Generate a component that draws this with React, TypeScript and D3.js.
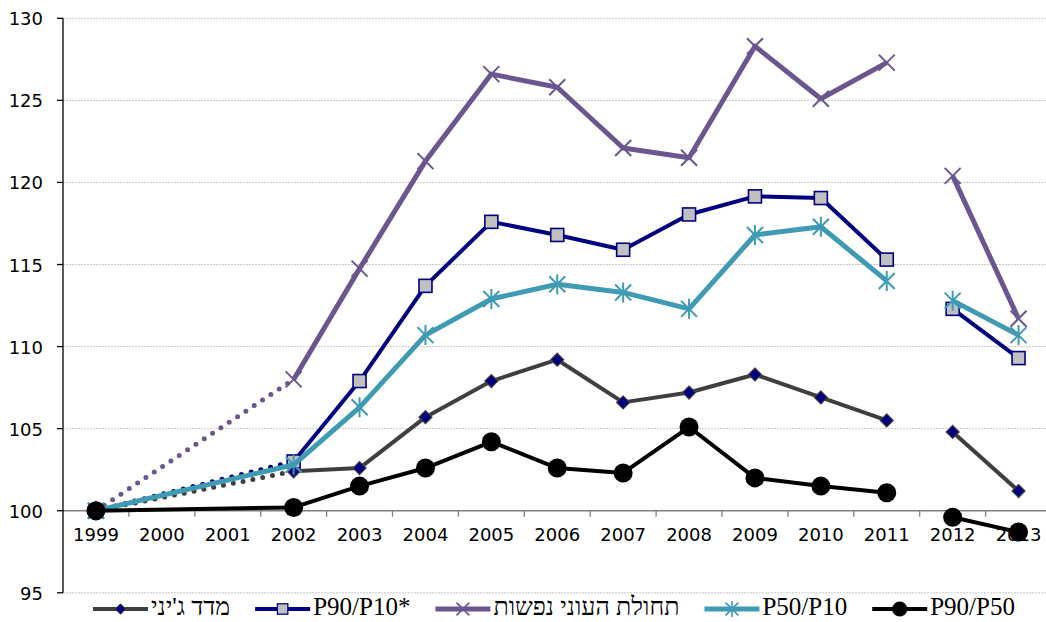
import { useEffect, useRef } from 'react';
import * as d3 from 'd3';

const years = ['1999', '2000', '2001', '2002', '2003', '2004', '2005', '2006', '2007', '2008', '2009', '2010', '2011', '2012', '2013'];

// null = no survey value for that year
const gini = [100, null, null, 102.4, 102.6, 105.7, 107.9, 109.2, 106.6, 107.2, 108.3, 106.9, 105.5, 104.8, 101.2];
const p90p10 = [100, null, null, 103.0, 107.9, 113.7, 117.6, 116.8, 115.9, 118.05, 119.15, 119.05, 115.3, 112.3, 109.3];
const poverty = [100, null, null, 108.0, 114.75, 121.3, 126.6, 125.8, 122.1, 121.5, 128.3, 125.1, 127.3, 120.4, 111.7];
const p50p10 = [100, null, null, 102.8, 106.3, 110.7, 112.9, 113.8, 113.3, 112.3, 116.8, 117.3, 114.0, 112.8, 110.7];
const p90p50 = [100, null, null, 100.2, 101.5, 102.6, 104.2, 102.6, 102.3, 105.1, 102.0, 101.5, 101.1, 99.6, 98.7];

// break between the two survey series
const seriesBreak = '2012';

const yTicks = [95, 100, 105, 110, 115, 120, 125, 130];

type Series = {
  name: string;
  values: (number | null)[];
  color: string;
  width: number;
  marker: 'diamond' | 'square' | 'x' | 'star' | 'circle';
  dottedBridge: boolean;
};

const series: Series[] = [
  { name: "מדד ג'יני", values: gini, color: '#3f3f3f', width: 4, marker: 'diamond', dottedBridge: true },
  { name: 'P90/P10*', values: p90p10, color: '#000080', width: 4, marker: 'square', dottedBridge: true },
  { name: 'תחולת העוני נפשות', values: poverty, color: '#6b5690', width: 5, marker: 'x', dottedBridge: true },
  { name: 'P50/P10', values: p50p10, color: '#3f9ab3', width: 5, marker: 'star', dottedBridge: false },
  { name: 'P90/P50', values: p90p50, color: '#000000', width: 4, marker: 'circle', dottedBridge: false },
];

const W = 1046;
const H = 622;

function drawMarker(g: d3.Selection<SVGGElement, unknown, null, undefined>, s: Series, cx: number, cy: number, k = 1) {
  const m = g.append('g').attr('transform', `translate(${cx},${cy}) scale(${k})`);
  if (s.marker === 'diamond') {
    m.append('path')
      .attr('d', 'M0,-6.5L6.5,0L0,6.5L-6.5,0Z')
      .attr('fill', '#000080')
      .attr('stroke', '#3f3f3f')
      .attr('stroke-width', 1.2);
  } else if (s.marker === 'square') {
    m.append('rect')
      .attr('x', -6.5).attr('y', -6.5)
      .attr('width', 13).attr('height', 13)
      .attr('fill', '#c0c0c0')
      .attr('stroke', '#000080')
      .attr('stroke-width', 1.6);
  } else if (s.marker === 'x') {
    m.append('path')
      .attr('d', 'M-8,-8L8,8M-8,8L8,-8')
      .attr('stroke', s.color)
      .attr('stroke-width', 2)
      .attr('fill', 'none');
  } else if (s.marker === 'star') {
    m.append('path')
      .attr('d', 'M-8,-8L8,8M-8,8L8,-8M0,-10L0,10')
      .attr('stroke', s.color)
      .attr('stroke-width', 2)
      .attr('fill', 'none');
  } else {
    m.append('circle')
      .attr('r', 9.5)
      .attr('fill', '#000');
  }
}

export default function App() {
  const svgRef = useRef<SVGSVGElement>(null);

  useEffect(() => {
    if (!svgRef.current) return;
    const svg = d3.select(svgRef.current);
    svg.selectAll('*').remove();

    const left = 63;
    const x = d3.scaleBand<string>().domain(years).range([left, left + 65.9 * years.length]);
    const y = d3.scaleLinear().domain([95, 130]).range([592.8, 18.3]);
    const cx = (yr: string) => x(yr)! + x.bandwidth() / 2;

    // gridlines
    svg.append('g')
      .selectAll('line')
      .data(yTicks.filter(t => t !== 100))
      .enter().append('line')
      .attr('x1', left).attr('x2', W)
      .attr('y1', d => y(d)).attr('y2', d => y(d))
      .attr('stroke', '#c8c8c8')
      .attr('stroke-width', 1)
      .attr('stroke-dasharray', '2 1');

    // x axis at 100
    const xAxisY = y(100);
    svg.append('line')
      .attr('x1', left).attr('x2', W)
      .attr('y1', xAxisY).attr('y2', xAxisY)
      .attr('stroke', '#808080').attr('stroke-width', 1.3);
    svg.append('g')
      .selectAll('line')
      .data(years.slice(1))
      .enter().append('line')
      .attr('x1', d => x(d)!).attr('x2', d => x(d)!)
      .attr('y1', xAxisY).attr('y2', xAxisY + 6)
      .attr('stroke', '#808080').attr('stroke-width', 1.3);
    svg.append('g')
      .selectAll('text')
      .data(years)
      .enter().append('text')
      .attr('x', d => cx(d))
      .attr('y', 541)
      .attr('text-anchor', 'middle')
      .attr('font-family', 'DejaVu Sans, sans-serif')
      .attr('font-size', '18px')
      .attr('fill', '#000')
      .text(d => d);

    // y axis
    svg.append('line')
      .attr('x1', left).attr('x2', left)
      .attr('y1', y(130)).attr('y2', y(95))
      .attr('stroke', '#000').attr('stroke-width', 1.3);
    svg.append('g')
      .selectAll('line')
      .data(yTicks)
      .enter().append('line')
      .attr('x1', left - 6).attr('x2', left)
      .attr('y1', d => y(d)).attr('y2', d => y(d))
      .attr('stroke', '#000').attr('stroke-width', 1.3);
    svg.append('g')
      .selectAll('text')
      .data(yTicks)
      .enter().append('text')
      .attr('x', 43)
      .attr('y', d => y(d) + 7)
      .attr('text-anchor', 'end')
      .attr('font-family', 'DejaVu Sans, sans-serif')
      .attr('font-size', '18px')
      .attr('fill', '#000')
      .text(d => d);

    const plot = svg.append('g');
    const breakIdx = years.indexOf(seriesBreak);

    series.forEach(s => {
      const pts = s.values.map((v, i) => ({ yr: years[i], v, i }));
      const g = plot.append('g');
      const line = d3.line<typeof pts[0]>().x(p => cx(p.yr)).y(p => y(p.v!));

      // bridge over the missing years 2000-2001
      const known = pts.filter(p => p.v !== null);
      g.append('path')
        .attr('d', line([known[0], known[1]])!)
        .attr('fill', 'none')
        .attr('stroke', s.color)
        .attr('stroke-width', s.dottedBridge ? 5 : s.width)
        .attr('stroke-linecap', 'round')
        .attr('stroke-dasharray', s.dottedBridge ? '0 10' : null);

      // solid segments, split at the series break
      const segA = known.filter(p => p.i >= known[1].i && p.i < breakIdx);
      const segB = known.filter(p => p.i >= breakIdx);
      [segA, segB].forEach(seg => {
        g.append('path')
          .attr('d', line(seg)!)
          .attr('fill', 'none')
          .attr('stroke', s.color)
          .attr('stroke-width', s.width)
          .attr('stroke-linejoin', 'round');
      });

      known.forEach(p => drawMarker(g, s, cx(p.yr), y(p.v!)));
    });

    // legend
    const legend = svg.append('g');
    let lx = 93;
    const ly = 609;
    series.forEach(s => {
      const item = legend.append('g');
      item.append('line')
        .attr('x1', lx).attr('x2', lx + 55)
        .attr('y1', ly).attr('y2', ly)
        .attr('stroke', s.color)
        .attr('stroke-width', s.width);
      drawMarker(item, s, lx + 27.5, ly, 0.8);
      const t = item.append('text')
        .attr('x', lx + 58)
        .attr('y', ly + 6)
        .attr('font-family', 'Liberation Serif, DejaVu Serif, serif')
        .attr('font-size', '25px')
        .attr('fill', '#000')
        .text(s.name);
      const tw = (t.node() as SVGTextElement).getComputedTextLength();
      lx = lx + 58 + tw + 25;
    });
  }, []);

  return (
    <svg
      ref={svgRef}
      width={W}
      height={H}
      style={{ position: 'absolute', left: 0, top: 0, background: '#fff' }}
    />
  );
}
